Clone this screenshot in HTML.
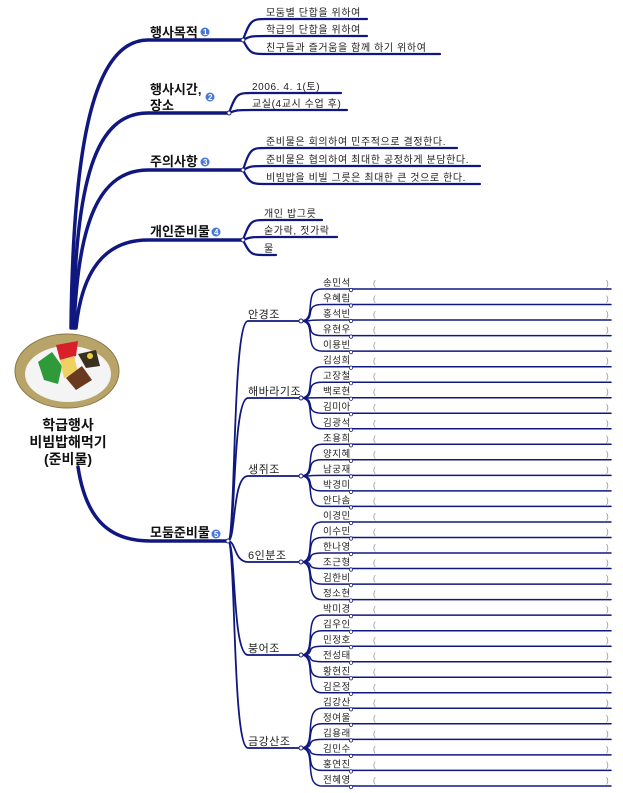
<!DOCTYPE html>
<html><head><meta charset="utf-8"><style>
html,body{margin:0;padding:0;background:#fff;}
svg{display:block;font-family:"Liberation Sans","Noto Sans CJK KR","NanumGothic",sans-serif;}
.l1{font-size:13px;font-weight:bold;fill:#111;}
.c{font-size:10px;fill:#222;letter-spacing:0.6px;}
.g{font-size:11px;fill:#222;letter-spacing:0.5px;}
.m{font-size:9.5px;fill:#222;letter-spacing:0.5px;}
.p{font-size:8px;fill:#888;}
.b{font-size:8px;font-weight:bold;fill:#fff;}
</style></head><body>
<svg width="623" height="793" viewBox="0 0 623 793" xmlns="http://www.w3.org/2000/svg">
<g fill="none" stroke="#10187f" stroke-linecap="round">
<!-- main branches -->
<g stroke-width="3.5">
<path d="M71,328 C73,150 92,40 148,40 L243,40"/>
<path d="M73,328 C76,180 95,113 148,113 L229,113"/>
<path d="M74,328 C78,220 100,170 148,170 L243,170"/>
<path d="M76,328 C82,270 105,240 148,240 L243,240"/>
<path d="M78,467 C86,520 110,541 150,541 L228,541"/>
</g>
<!-- level1 children -->
<g stroke-width="2.2">
<path d="M243,40 C250,20 252,19 266,19 L367,19"/>
<path d="M243,40 C250,36 252,36 266,36 L367,36"/>
<path d="M243,40 C250,54 252,54 266,54 L440,54"/>
<path d="M229,113 C236,93 238,93 252,93 L341,93"/>
<path d="M229,113 C236,110 238,110 252,110 L347,110"/>
<path d="M243,170 C250,148 252,148 266,148 L457,148"/>
<path d="M243,170 C250,166 252,166 266,166 L480,166"/>
<path d="M243,170 C250,184 252,184 266,184 L480,184"/>
<path d="M243,240 C250,220 252,220 266,220 L322,220"/>
<path d="M243,240 C250,237 252,237 266,237 L337,237"/>
<path d="M243,240 C250,255 252,255 266,255 L276,255"/>
</g>
<!-- groups -->
<g stroke-width="1.8">
<path d="M228,541 C236,541 232,321 248,321 L301,321"/>
<path d="M228,541 C236,541 232,398 248,398 L301,398"/>
<path d="M228,541 C236,541 232,476 248,476 L301,476"/>
<path d="M228,541 C236,541 234,562 248,562 L301,562"/>
<path d="M228,541 C236,541 232,655 248,655 L301,655"/>
<path d="M228,541 C236,541 232,748 248,748 L301,748"/>
</g>
<!-- members -->
<g stroke-width="1.5">
<path d="M301,321 C318,321 302,289 322,289 L611,289"/>
<path d="M301,321 C318,321 302,304.5 322,304.5 L611,304.5"/>
<path d="M301,321 C318,321 302,320 322,320 L611,320"/>
<path d="M301,321 C318,321 302,335.6 322,335.6 L611,335.6"/>
<path d="M301,321 C318,321 302,351.1 322,351.1 L611,351.1"/>
<path d="M301,398 C318,398 302,366.7 322,366.7 L611,366.7"/>
<path d="M301,398 C318,398 302,382.2 322,382.2 L611,382.2"/>
<path d="M301,398 C318,398 302,397.7 322,397.7 L611,397.7"/>
<path d="M301,398 C318,398 302,413.2 322,413.2 L611,413.2"/>
<path d="M301,398 C318,398 302,428.8 322,428.8 L611,428.8"/>
<path d="M301,476 C318,476 302,444.3 322,444.3 L611,444.3"/>
<path d="M301,476 C318,476 302,459.8 322,459.8 L611,459.8"/>
<path d="M301,476 C318,476 302,475.4 322,475.4 L611,475.4"/>
<path d="M301,476 C318,476 302,490.9 322,490.9 L611,490.9"/>
<path d="M301,476 C318,476 302,506.4 322,506.4 L611,506.4"/>
<path d="M301,562 C318,562 302,522 322,522 L611,522"/>
<path d="M301,562 C318,562 302,537.5 322,537.5 L611,537.5"/>
<path d="M301,562 C318,562 302,553 322,553 L611,553"/>
<path d="M301,562 C318,562 302,568.5 322,568.5 L611,568.5"/>
<path d="M301,562 C318,562 302,584.1 322,584.1 L611,584.1"/>
<path d="M301,562 C318,562 302,599.6 322,599.6 L611,599.6"/>
<path d="M301,655 C318,655 302,615.1 322,615.1 L611,615.1"/>
<path d="M301,655 C318,655 302,630.7 322,630.7 L611,630.7"/>
<path d="M301,655 C318,655 302,646.2 322,646.2 L611,646.2"/>
<path d="M301,655 C318,655 302,661.7 322,661.7 L611,661.7"/>
<path d="M301,655 C318,655 302,677.3 322,677.3 L611,677.3"/>
<path d="M301,655 C318,655 302,692.8 322,692.8 L611,692.8"/>
<path d="M301,748 C318,748 302,708.3 322,708.3 L611,708.3"/>
<path d="M301,748 C318,748 302,723.8 322,723.8 L611,723.8"/>
<path d="M301,748 C318,748 302,739.4 322,739.4 L611,739.4"/>
<path d="M301,748 C318,748 302,754.9 322,754.9 L611,754.9"/>
<path d="M301,748 C318,748 302,770.4 322,770.4 L611,770.4"/>
<path d="M301,748 C318,748 302,786 322,786 L611,786"/>
</g>
</g>
<!-- nodes -->
<g fill="#fff" stroke="#10187f" stroke-width="1">
<circle cx="243" cy="40" r="2"/><circle cx="229" cy="113" r="2"/><circle cx="243" cy="170" r="2"/><circle cx="243" cy="240" r="2"/><circle cx="228" cy="541" r="2"/>
<circle cx="301" cy="321" r="2"/><circle cx="301" cy="398" r="2"/><circle cx="301" cy="476" r="2"/><circle cx="301" cy="562" r="2"/><circle cx="301" cy="655" r="2"/><circle cx="301" cy="748" r="2"/>
</g>
<g fill="#fff" stroke="#10187f" stroke-width="0.8">
<circle cx="351" cy="290" r="1.7"/><circle cx="351" cy="305.5" r="1.7"/><circle cx="351" cy="321" r="1.7"/><circle cx="351" cy="336.6" r="1.7"/><circle cx="351" cy="352.1" r="1.7"/>
<circle cx="351" cy="367.7" r="1.7"/><circle cx="351" cy="383.2" r="1.7"/><circle cx="351" cy="398.7" r="1.7"/><circle cx="351" cy="414.2" r="1.7"/><circle cx="351" cy="429.8" r="1.7"/>
<circle cx="351" cy="445.3" r="1.7"/><circle cx="351" cy="460.8" r="1.7"/><circle cx="351" cy="476.4" r="1.7"/><circle cx="351" cy="491.9" r="1.7"/><circle cx="351" cy="507.4" r="1.7"/>
<circle cx="351" cy="523" r="1.7"/><circle cx="351" cy="538.5" r="1.7"/><circle cx="351" cy="554" r="1.7"/><circle cx="351" cy="569.5" r="1.7"/><circle cx="351" cy="585.1" r="1.7"/><circle cx="351" cy="600.6" r="1.7"/>
<circle cx="351" cy="616.1" r="1.7"/><circle cx="351" cy="631.7" r="1.7"/><circle cx="351" cy="647.2" r="1.7"/><circle cx="351" cy="662.7" r="1.7"/><circle cx="351" cy="678.3" r="1.7"/><circle cx="351" cy="693.8" r="1.7"/>
<circle cx="351" cy="709.3" r="1.7"/><circle cx="351" cy="724.8" r="1.7"/><circle cx="351" cy="740.4" r="1.7"/><circle cx="351" cy="755.9" r="1.7"/><circle cx="351" cy="771.4" r="1.7"/><circle cx="351" cy="787" r="1.7"/>
</g>
<!-- bowl -->
<ellipse cx="67" cy="371" rx="52" ry="37" fill="#b8a468" stroke="#8a7a48" stroke-width="1"/>
<ellipse cx="68" cy="374" rx="43" ry="28" fill="#f4f4f4"/>
<path d="M38,362 L52,352 L62,366 L58,384 L44,380 Z" fill="#2f9a3a"/>
<path d="M56,345 L78,341 L76,356 L60,360 Z" fill="#d8202a"/>
<path d="M60,360 L74,356 L78,372 L64,378 Z" fill="#f0d060"/>
<path d="M66,378 L82,366 L92,380 L76,390 Z" fill="#6a3a20"/>
<path d="M78,354 L96,350 L100,366 L86,368 Z" fill="#3a3020"/>
<circle cx="90" cy="356" r="3" fill="#e8d040"/>
<!-- texts -->
<text class="l1" x="150" y="37">행사목적</text>
<text class="l1" x="150" y="94">행사시간,</text>
<text class="l1" x="150" y="110">장소</text>
<text class="l1" x="150" y="166">주의사항</text>
<text class="l1" x="150" y="236">개인준비물</text>
<text class="l1" x="150" y="537">모둠준비물</text>
<g fill="#4a78d8">
<circle cx="205" cy="32" r="4.5"/><circle cx="210" cy="97" r="4.5"/><circle cx="205" cy="162" r="4.5"/><circle cx="216" cy="232" r="4.5"/><circle cx="216" cy="534" r="4.5"/>
</g>
<text class="b" x="203" y="35">1</text><text class="b" x="208" y="100">2</text><text class="b" x="203" y="165">3</text><text class="b" x="214" y="235">4</text><text class="b" x="214" y="537">5</text>
<text x="68" y="430" text-anchor="middle" style="font-size:14px;font-weight:bold;fill:#111">학급행사</text>
<text x="68" y="447" text-anchor="middle" style="font-size:14px;font-weight:bold;fill:#111">비빔밥해먹기</text>
<text x="68" y="464" text-anchor="middle" style="font-size:14px;font-weight:bold;fill:#111">(준비물)</text>
<text class="c" x="266" y="16">모둠별 단합을 위하여</text>
<text class="c" x="266" y="33">학급의 단합을 위하여</text>
<text class="c" x="266" y="51">친구들과 즐거움을 함께 하기 위하여</text>
<text class="c" x="252" y="90">2006. 4. 1(토)</text>
<text class="c" x="252" y="107">교실(4교시 수업 후)</text>
<text class="c" x="266" y="145">준비물은 회의하여 민주적으로 결정한다.</text>
<text class="c" x="266" y="163">준비물은 협의하여 최대한 공정하게 분담한다.</text>
<text class="c" x="266" y="181">비빔밥을 비빌 그릇은 최대한 큰 것으로 한다.</text>
<text class="c" x="264" y="217">개인 밥그릇</text>
<text class="c" x="264" y="234">숟가락, 젓가락</text>
<text class="c" x="264" y="252">물</text>
<text class="g" x="248" y="318">안경조</text>
<text class="g" x="248" y="395">해바라기조</text>
<text class="g" x="248" y="473">생쥐조</text>
<text class="g" x="248" y="559">6인분조</text>
<text class="g" x="248" y="652">붕어조</text>
<text class="g" x="248" y="745">금강산조</text>
<g class="m">
<text class="m" x="323" y="286">송민석</text><text class="m" x="323" y="301.5">우혜림</text><text class="m" x="323" y="317">홍석빈</text><text class="m" x="323" y="332.6">유현우</text><text class="m" x="323" y="348.1">이용빈</text>
<text class="m" x="323" y="363.7">김성희</text><text class="m" x="323" y="379.2">고장철</text><text class="m" x="323" y="394.7">백로현</text><text class="m" x="323" y="410.2">김미아</text><text class="m" x="323" y="425.8">김광석</text>
<text class="m" x="323" y="441.3">조용희</text><text class="m" x="323" y="456.8">양지혜</text><text class="m" x="323" y="472.4">남궁재</text><text class="m" x="323" y="487.9">박경미</text><text class="m" x="323" y="503.4">안다솜</text>
<text class="m" x="323" y="519">이경민</text><text class="m" x="323" y="534.5">이수민</text><text class="m" x="323" y="550">한나영</text><text class="m" x="323" y="565.5">조근형</text><text class="m" x="323" y="581.1">김한비</text><text class="m" x="323" y="596.6">정소현</text>
<text class="m" x="323" y="612.1">박미경</text><text class="m" x="323" y="627.7">김우인</text><text class="m" x="323" y="643.2">민정호</text><text class="m" x="323" y="658.7">전성태</text><text class="m" x="323" y="674.3">황현진</text><text class="m" x="323" y="689.8">김은정</text>
<text class="m" x="323" y="705.3">김강산</text><text class="m" x="323" y="720.8">정여울</text><text class="m" x="323" y="736.4">김용래</text><text class="m" x="323" y="751.9">김민수</text><text class="m" x="323" y="767.4">홍연진</text><text class="m" x="323" y="783">전혜영</text>
</g>
<g class="p">
<text class="p" x="373" y="286">(</text><text class="p" x="606" y="286">)</text>
<text class="p" x="373" y="301.5">(</text><text class="p" x="606" y="301.5">)</text>
<text class="p" x="373" y="317">(</text><text class="p" x="606" y="317">)</text>
<text class="p" x="373" y="332.6">(</text><text class="p" x="606" y="332.6">)</text>
<text class="p" x="373" y="348.1">(</text><text class="p" x="606" y="348.1">)</text>
<text class="p" x="373" y="363.7">(</text><text class="p" x="606" y="363.7">)</text>
<text class="p" x="373" y="379.2">(</text><text class="p" x="606" y="379.2">)</text>
<text class="p" x="373" y="394.7">(</text><text class="p" x="606" y="394.7">)</text>
<text class="p" x="373" y="410.2">(</text><text class="p" x="606" y="410.2">)</text>
<text class="p" x="373" y="425.8">(</text><text class="p" x="606" y="425.8">)</text>
<text class="p" x="373" y="441.3">(</text><text class="p" x="606" y="441.3">)</text>
<text class="p" x="373" y="456.8">(</text><text class="p" x="606" y="456.8">)</text>
<text class="p" x="373" y="472.4">(</text><text class="p" x="606" y="472.4">)</text>
<text class="p" x="373" y="487.9">(</text><text class="p" x="606" y="487.9">)</text>
<text class="p" x="373" y="503.4">(</text><text class="p" x="606" y="503.4">)</text>
<text class="p" x="373" y="519">(</text><text class="p" x="606" y="519">)</text>
<text class="p" x="373" y="534.5">(</text><text class="p" x="606" y="534.5">)</text>
<text class="p" x="373" y="550">(</text><text class="p" x="606" y="550">)</text>
<text class="p" x="373" y="565.5">(</text><text class="p" x="606" y="565.5">)</text>
<text class="p" x="373" y="581.1">(</text><text class="p" x="606" y="581.1">)</text>
<text class="p" x="373" y="596.6">(</text><text class="p" x="606" y="596.6">)</text>
<text class="p" x="373" y="612.1">(</text><text class="p" x="606" y="612.1">)</text>
<text class="p" x="373" y="627.7">(</text><text class="p" x="606" y="627.7">)</text>
<text class="p" x="373" y="643.2">(</text><text class="p" x="606" y="643.2">)</text>
<text class="p" x="373" y="658.7">(</text><text class="p" x="606" y="658.7">)</text>
<text class="p" x="373" y="674.3">(</text><text class="p" x="606" y="674.3">)</text>
<text class="p" x="373" y="689.8">(</text><text class="p" x="606" y="689.8">)</text>
<text class="p" x="373" y="705.3">(</text><text class="p" x="606" y="705.3">)</text>
<text class="p" x="373" y="720.8">(</text><text class="p" x="606" y="720.8">)</text>
<text class="p" x="373" y="736.4">(</text><text class="p" x="606" y="736.4">)</text>
<text class="p" x="373" y="751.9">(</text><text class="p" x="606" y="751.9">)</text>
<text class="p" x="373" y="767.4">(</text><text class="p" x="606" y="767.4">)</text>
<text class="p" x="373" y="783">(</text><text class="p" x="606" y="783">)</text>
</g>
</svg>
</body></html>
